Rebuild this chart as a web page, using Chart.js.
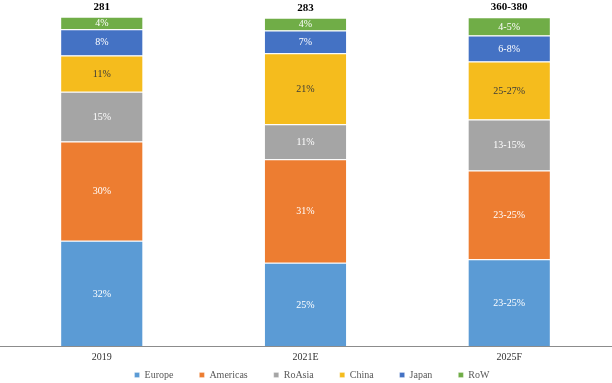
<!DOCTYPE html>
<html>
<head>
<meta charset="utf-8">
<script src="https://cdn.jsdelivr.net/npm/chart.js@4/dist/chart.umd.min.js"></script>
<style>
  html, body { margin: 0; padding: 0; background: #fff; }
  #wrap { width: 612px; height: 383px; position: relative; }
</style>
</head>
<body>
<div id="wrap"><canvas id="c" width="612" height="383"></canvas></div>
<script>
const categories = ['2019', '2021E', '2025F'];
const totalLabels = ['281', '283', '360-380'];

const europe   = [32.0, 25.3, 26.4];
const americas = [30.2, 31.5, 27.0];
const roAsia   = [15.2, 10.7, 15.5];
const china    = [11.0, 21.6, 17.7];
const japan    = [8.0, 6.9, 7.9];
const row      = [3.8, 3.9, 5.5];

const europeText   = ['32%', '25%', '23-25%'];
const americasText = ['30%', '31%', '23-25%'];
const roAsiaText   = ['15%', '11%', '13-15%'];
const chinaText    = ['11%', '21%', '25-27%'];
const japanText    = ['8%', '7%', '6-8%'];
const rowText      = ['4%', '4%', '4-5%'];

const FONT = '"Liberation Serif", "Times New Roman", serif';

function ds(label, data, color, texts, textColor) {
  return {
    label, data,
    backgroundColor: color,
    borderColor: '#ffffff',
    borderWidth: { top: 1, left: 0, right: 0, bottom: 0 },
    borderSkipped: false,
    texts, textColor
  };
}

const segLabels = {
  id: 'segLabels',
  afterDatasetsDraw(chart) {
    const ctx = chart.ctx;
    ctx.save();
    ctx.textAlign = 'center';
    ctx.textBaseline = 'middle';
    ctx.font = '10px ' + FONT;
    chart.data.datasets.forEach((d, di) => {
      const meta = chart.getDatasetMeta(di);
      meta.data.forEach((el, i) => {
        const p = el.getProps(['x', 'y', 'base'], true);
        ctx.fillStyle = d.textColor;
        ctx.fillText(d.texts[i], p.x, (p.y + p.base) / 2 + 0.5);
      });
    });
    const lastMeta = chart.getDatasetMeta(chart.data.datasets.length - 1);
    ctx.font = 'bold 11px ' + FONT;
    ctx.fillStyle = '#000';
    ctx.textBaseline = 'alphabetic';
    lastMeta.data.forEach((el, i) => {
      const p = el.getProps(['x', 'y'], true);
      ctx.fillText(totalLabels[i], p.x, p.y - 7);
    });
    ctx.restore();
  }
};

const legendShift = {
  id: 'legendShift',
  afterLayout(chart) {
    const lg = chart.legend;
    if (!lg) return;
    lg.top = 344;
    lg.bottom = 383;
    lg.height = 39;
    lg.left = 6;
    lg.right = 618;
  }
};

new Chart(document.getElementById('c'), {
  type: 'bar',
  data: {
    labels: categories,
    datasets: [
      ds('Europe',   europe,   '#5B9BD5', europeText,   '#ffffff'),
      ds('Americas', americas, '#ED7D31', americasText, '#ffffff'),
      ds('RoAsia',   roAsia,   '#A5A5A5', roAsiaText,   '#ffffff'),
      ds('China',    china,    '#F5BC1D', chinaText,    '#3a3a3a'),
      ds('Japan',    japan,    '#4472C4', japanText,    '#ffffff'),
      ds('RoW',      row,      '#70AD47', rowText,      '#ffffff')
    ]
  },
  options: {
    responsive: false,
    animation: false,
    devicePixelRatio: 1,
    layout: { padding: { top: 16.7, left: -3, right: 1, bottom: 0 } },
    datasets: { bar: { barPercentage: 0.4, categoryPercentage: 1.0 } },
    scales: {
      x: {
        stacked: true,
        grid: { display: false, drawTicks: false, tickLength: 0 },
        border: { display: true, color: '#8c8c8c', width: 1 },
        ticks: { padding: 5, color: '#333', font: { family: FONT, size: 10 } }
      },
      y: {
        stacked: true,
        display: false,
        min: 0,
        max: 100.2
      }
    },
    plugins: {
      legend: {
        position: 'bottom',
        maxHeight: 15,
        labels: {
          boxWidth: 5,
          boxHeight: 5,
          padding: 26,
          color: '#595959',
          font: { family: FONT, size: 10 }
        }
      },
      tooltip: { enabled: false }
    }
  },
  plugins: [segLabels, legendShift]
});
</script>
</body>
</html>
